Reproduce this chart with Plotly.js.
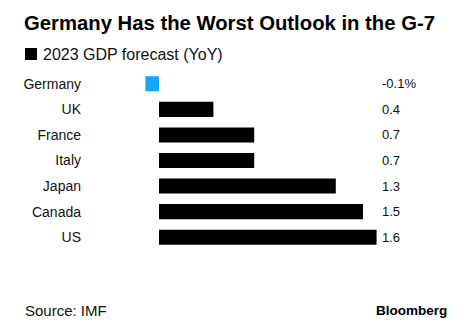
<!DOCTYPE html>
<html><head><meta charset="utf-8">
<script src="https://cdn.plot.ly/plotly-3.0.1.min.js"></script>
<style>html,body{margin:0;padding:0;background:#fff}#chart{width:474px;height:325px}</style>
</head><body><div id="chart"></div>
<script>
const countries = ["Germany","UK","France","Italy","Japan","Canada","US"];
const gdpForecast = [-0.1, 0.4, 0.7, 0.7, 1.3, 1.5, 1.6];
const valueLabels = ["-0.1%","0.4","0.7","0.7","1.3","1.5","1.6"];
const barColors = gdpForecast.map(v => v < 0 ? "#17a6f7" : "#000000");
const FONT = "Liberation Sans, Arial, Helvetica, sans-serif";

const trace = {
  type: "bar", orientation: "h",
  x: gdpForecast, y: countries,
  marker: {color: barColors, line: {width: 0}},
  showlegend: false, hoverinfo: "skip"
};

const annotations = countries.map((c, i) => ({
  xref: "x", yref: "y", x: 1.625, y: c, text: valueLabels[i],
  showarrow: false, xanchor: "left", yanchor: "middle",
  font: {family: FONT, size: 13, color: "#111"}
}));

const layout = {
  width: 474, height: 325,
  margin: {l: 85, r: 30, t: 71, b: 75},
  paper_bgcolor: "#fff", plot_bgcolor: "#fff",
  bargap: 0.41,
  title: {
    text: "<b>Germany Has the Worst Outlook in the G-7</b>",
    x: 24/474, xanchor: "left", xref: "container",
    y: 1 - 23/325, yanchor: "middle", yref: "container",
    font: {family: FONT, size: 20.3, color: "#000"}
  },
  xaxis: {range: [-(159-85)/136, (444-159)/136], visible: false, fixedrange: true},
  yaxis: {
    autorange: "reversed", type: "category",
    showgrid: false, zeroline: false, showline: false, ticks: "",
    ticklabelstandoff: 3,
    tickfont: {family: FONT, size: 14, color: "#111"}
  },
  shapes: [{
    type: "rect", xref: "paper", yref: "paper",
    x0: (25-85)/359, x1: (37-85)/359,
    y0: (250.3-60)/179.3, y1: (250.3-48)/179.3,
    fillcolor: "#000", line: {width: 0}
  }],
  annotations: annotations.concat([
    {xref: "paper", yref: "paper", x: (41-85)/359, y: (250.3-54)/179.3,
     xanchor: "left", yanchor: "middle", showarrow: false,
     text: "2023 GDP forecast (YoY)", font: {family: FONT, size: 16, color: "#111"}},
    {xref: "paper", yref: "paper", x: (23-85)/359, y: (250.3-311)/179.3,
     xanchor: "left", yanchor: "middle", showarrow: false,
     text: "Source: IMF", font: {family: FONT, size: 15, color: "#111"}},
    {xref: "paper", yref: "paper", x: (449-85)/359, y: (250.3-311)/179.3,
     xanchor: "right", yanchor: "middle", showarrow: false,
     text: "<b>Bloomberg</b>", font: {family: FONT, size: 13.5, color: "#000"}}
  ])
};

Plotly.newPlot("chart", [trace], layout, {displayModeBar: false, staticPlot: true});
</script></body></html>
